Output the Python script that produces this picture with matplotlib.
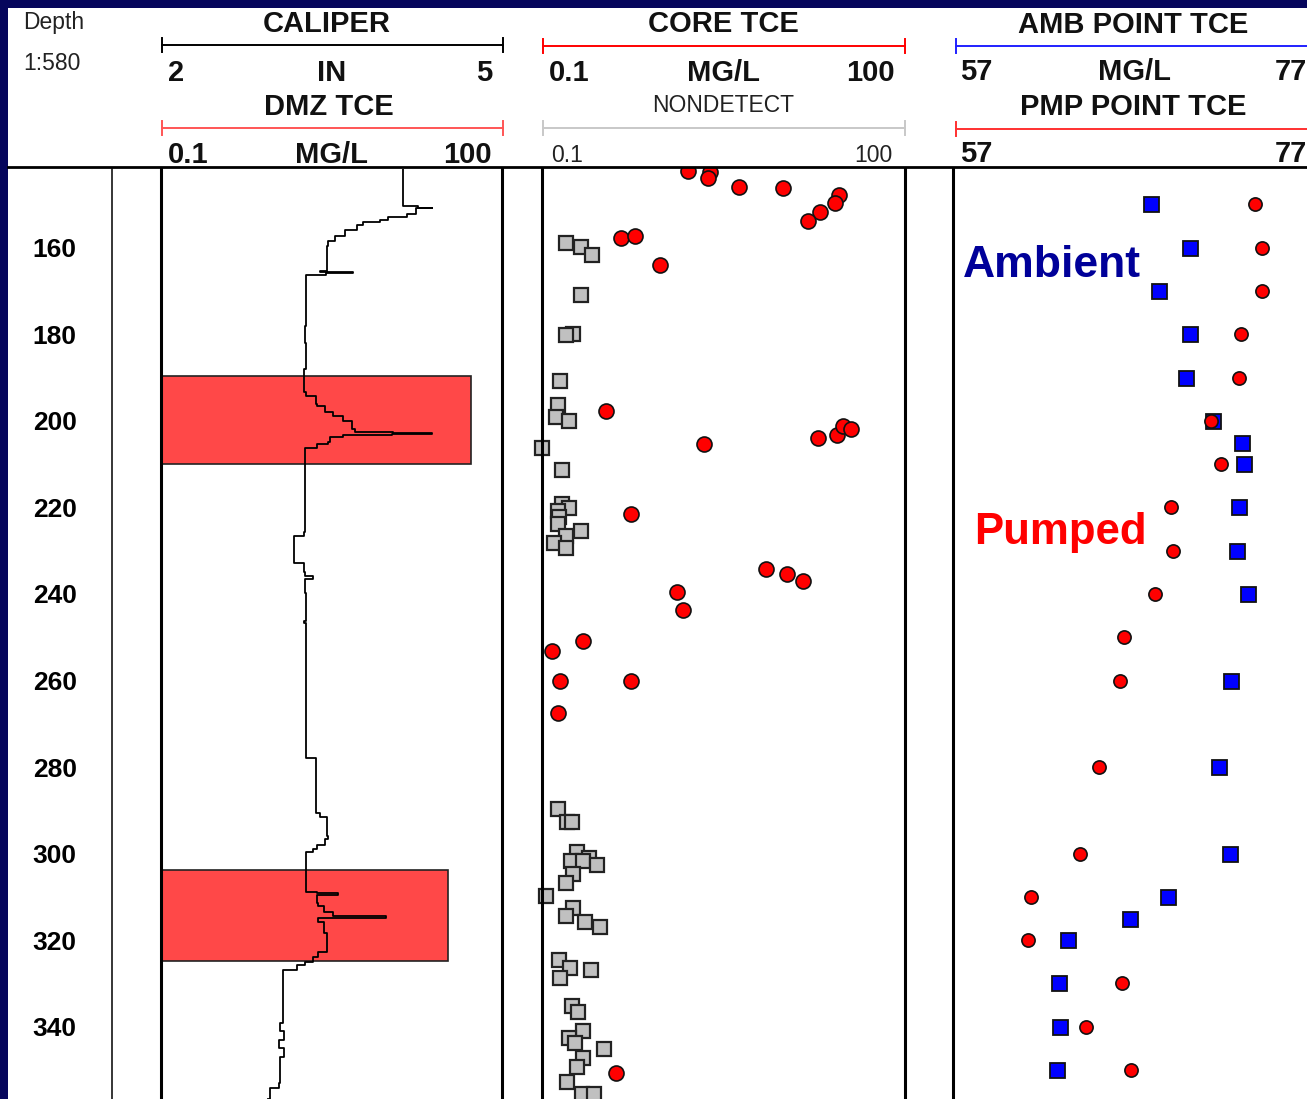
import matplotlib.pyplot as plt
from matplotlib.patches import Rectangle
from matplotlib.transforms import blended_transform_factory

plt.rcParams['font.family'] = ['Liberation Sans', 'DejaVu Sans']

depth_top, depth_bot = 141.8, 356.7
depth_ticks = [160, 180, 200, 220, 240, 260, 280, 300, 320, 340]

# caliper, inches
cal_depth = [141.8, 149.8, 150.3, 150.7, 150.9, 152.1, 152.8, 153.5, 154.0, 154.7,
             155.8, 157.2, 158.4, 159.5, 164.9, 165.4, 165.6, 165.9, 166.2, 178.0,
             182.0, 188.0, 193.3, 194.2, 196.1, 196.6, 197.9, 198.9, 200.0, 201.9,
             202.6, 202.8, 203.0, 203.3, 203.7, 204.9, 205.3, 206.3, 225.7, 226.6,
             232.4, 232.8, 235.0, 235.9, 236.6, 239.8, 246.3, 246.6, 272.9, 277.5,
             278.0, 289.8, 290.5, 291.6, 296.0, 296.7, 297.9, 299.0, 299.7, 308.3,
             308.8, 309.0, 309.5, 311.3, 312.2, 313.6, 314.3, 314.8, 315.9, 318.3,
             321.7, 322.7, 323.8, 325.0, 325.7, 326.8, 339.1, 341.0, 343.0, 345.0,
             347.0, 353.0, 354.1, 356.7]
cal_in = [4.13, 4.13, 4.26, 4.38, 4.24, 4.16, 4.00, 3.93, 3.78, 3.72,
          3.62, 3.53, 3.47, 3.46, 3.46, 3.40, 3.69, 3.45, 3.28, 3.27,
          3.28, 3.26, 3.28, 3.36, 3.37, 3.44, 3.51, 3.60, 3.68, 3.71,
          4.04, 4.38, 4.03, 3.60, 3.49, 3.47, 3.37, 3.27, 3.26, 3.17,
          3.17, 3.26, 3.27, 3.34, 3.27, 3.28, 3.26, 3.28, 3.28, 3.28,
          3.36, 3.36, 3.40, 3.46, 3.47, 3.44, 3.37, 3.34, 3.28, 3.28,
          3.37, 3.56, 3.37, 3.38, 3.43, 3.51, 3.98, 3.38, 3.43, 3.46,
          3.46, 3.38, 3.34, 3.27, 3.20, 3.07, 3.05, 3.08, 3.04, 3.08,
          3.05, 3.04, 2.96, 2.94]

# DMZ TCE intervals, mg/L
dmz_top = [189.6, 303.7]
dmz_bot = [210.0, 324.7]
dmz_tce = [53.4, 33.5]

# core TCE, detects (mg/L)
core_det_depth = [142.2, 142.4, 143.8, 145.9, 146.3, 147.7, 149.6, 151.7, 153.8, 157.7,
                  157.2, 163.9, 197.7, 205.3, 204.0, 203.3, 201.2, 201.9, 221.5, 234.3,
                  235.4, 237.0, 239.6, 243.8, 250.9, 253.2, 260.0, 260.0, 267.4, 350.7]
core_det_tce = [1.61, 2.44, 2.36, 4.25, 9.8, 28.5, 26.4, 19.8, 15.8, 0.45,
                0.59, 0.94, 0.34, 2.18, 19.1, 27.4, 30.7, 35.8, 0.54, 7.1,
                10.6, 14.4, 1.31, 1.46, 0.22, 0.12, 0.14, 0.54, 0.135, 0.41]

# core TCE, nondetects (mg/L)
core_nd_depth = [158.8, 159.8, 161.6, 170.9, 179.9, 180.1, 190.8, 196.3, 199.1, 200.0,
                 206.3, 211.4, 219.2, 220.2, 220.9, 222.2, 223.9, 225.5, 226.6, 228.3,
                 229.4, 289.8, 292.6, 292.6, 299.7, 300.9, 301.8, 301.6, 302.7, 304.8,
                 306.7, 309.9, 312.5, 314.3, 315.7, 316.9, 324.5, 326.4, 328.7, 326.8,
                 335.2, 336.5, 340.9, 342.6, 343.7, 345.1, 347.2, 349.3, 352.7, 355.5,
                 355.5]
core_nd_tce = [0.158, 0.21, 0.26, 0.21, 0.18, 0.158, 0.14, 0.135, 0.13, 0.167,
               0.10, 0.146, 0.146, 0.167, 0.135, 0.138, 0.135, 0.21, 0.158, 0.126,
               0.158, 0.135, 0.16, 0.177, 0.195, 0.244, 0.174, 0.22, 0.285, 0.18,
               0.158, 0.108, 0.18, 0.158, 0.226, 0.30, 0.138, 0.17, 0.14, 0.254,
               0.177, 0.20, 0.22, 0.167, 0.187, 0.325, 0.22, 0.195, 0.16, 0.215,
               0.27]

# point samples
amb_depth = [150, 160, 170, 180, 190, 200, 205, 210, 220, 230,
             240, 260, 280, 300, 310, 315, 320, 330, 340, 350]
amb_tce = [67.9, 70.0, 68.3, 70.0, 69.8, 71.3, 72.9, 73.0, 72.7, 72.6,
           73.2, 72.3, 71.6, 72.2, 68.8, 66.7, 63.3, 62.8, 62.9, 62.7]
pmp_depth = [150, 160, 170, 180, 190, 200, 210, 220, 230, 240,
             250, 260, 280, 300, 310, 320, 330, 340, 350]
pmp_tce = [73.6, 74.0, 74.0, 72.8, 72.7, 71.2, 71.7, 69.0, 69.1, 68.1,
           66.4, 66.2, 65.0, 64.0, 61.3, 61.1, 66.3, 64.3, 66.8]

# ---- layout (pixels) ----
W, H = 1307, 1099
BODY_TOP = 169
NAVY = '#06065c'
RED = '#ff0000'

fig = plt.figure(figsize=(W / 100, H / 100), dpi=100)
fig.patch.set_facecolor('white')


def box(x0, x1, y0, y1):
    return [x0 / W, 1 - y1 / H, (x1 - x0) / W, (y1 - y0) / H]


def track(x0, x1, scale, lim):
    ax = fig.add_axes(box(x0, x1, BODY_TOP, H))
    ax.set_xscale(scale)
    ax.set_xlim(lim)
    ax.set_ylim(depth_bot, depth_top)
    ax.tick_params(which='both', length=0, labelbottom=False, labelleft=False)
    ax.set_xticks([], minor=True)
    ax.set_xticks([])
    ax.set_yticks([])
    for s in ['top', 'bottom']:
        ax.spines[s].set_visible(False)
    for s in ['left', 'right']:
        ax.spines[s].set_linewidth(2.2)
    return ax


# depth column
ax_d = fig.add_axes(box(8, 112, BODY_TOP, H))
ax_d.set_xlim(0, 1)
ax_d.set_ylim(depth_bot, depth_top)
ax_d.set_xticks([])
ax_d.set_yticks([])
for s in ['top', 'bottom', 'left']:
    ax_d.spines[s].set_visible(False)
ax_d.spines['right'].set_linewidth(1.1)
for d in depth_ticks:
    ax_d.annotate(str(d), (0.45, d), xytext=(0, -6.8), textcoords='offset points',
                  ha='center', va='baseline', fontsize=19, fontweight='bold')

# caliper + DMZ TCE
ax_dmz = track(161, 502, 'log', (0.1, 100))
ax_dmz.barh([(t + b) / 2 for t, b in zip(dmz_top, dmz_bot)],
            [v - 0.1 for v in dmz_tce], left=0.1,
            height=[b - t for t, b in zip(dmz_top, dmz_bot)],
            color='#ff4848', edgecolor='#222222', linewidth=1.2)
ax_cal = ax_dmz.twiny()
ax_cal.set_xlim(2, 5)
ax_cal.set_xticks([])
for s in ax_cal.spines.values():
    s.set_visible(False)
ax_cal.plot(cal_in, cal_depth, color='black', lw=1.3, drawstyle='steps-pre')

# core TCE
ax_core = track(542, 905, 'log', (0.1, 100))
ax_core.plot(core_nd_tce, core_nd_depth, 's', ms=10.2, mfc='#c0c0c0', mec='#222222',
             mew=1.6, clip_on=False)
ax_core.plot(core_det_tce, core_det_depth, 'o', ms=10.8, mfc=RED, mec='#111111',
             mew=1.2, clip_on=False)

# ambient / pumped point samples
ax_amb = track(953, 1317, 'linear', (57, 77))
ax_amb.plot(amb_tce, amb_depth, 's', ms=10.8, mfc='#0000ff', mec='#111111', mew=1.3,
            clip_on=False)
ax_amb.plot(pmp_tce, pmp_depth, 'o', ms=9.5, mfc=RED, mec='#111111', mew=1.2,
            clip_on=False)
tr = blended_transform_factory(ax_amb.transAxes, ax_amb.transData)
ax_amb.text(0.027, 166.7, 'Ambient', transform=tr, ha='left', va='baseline',
            fontsize=32, fontweight='bold', color='#000099')
ax_amb.text(0.058, 228.5, 'Pumped', transform=tr, ha='left', va='baseline',
            fontsize=31.5, fontweight='bold', color=RED)

# ---- header ----
ax_h = fig.add_axes([0, 0, 1, 1], zorder=10)
ax_h.set_xlim(0, W)
ax_h.set_ylim(H, 0)
ax_h.axis('off')
ax_h.add_patch(Rectangle((0, 0), W, 167, facecolor='white', edgecolor='none'))
ax_h.add_patch(Rectangle((0, 0), 8, H, facecolor=NAVY, edgecolor='none'))
ax_h.add_patch(Rectangle((0, 0), W, 8, facecolor=NAVY, edgecolor='none'))
ax_h.plot([8, W], [167, 167], color='black', lw=2)

ax_h.text(23, 29, 'Depth', fontsize=16.5, va='baseline', ha='left', color='#222222')
ax_h.text(23, 70, '1:580', fontsize=16.5, va='baseline', ha='left', color='#222222')


def bar(x0, x1, y, color):
    ax_h.plot([x0, x1], [y, y], color=color, lw=1.4)
    ax_h.plot([x0, x0], [y - 7, y + 7], color=color, lw=1.4)
    ax_h.plot([x1, x1], [y - 7, y + 7], color=color, lw=1.4)


def row(x0, x1, y, left, mid, right, size=21, weight='bold'):
    kw = dict(fontsize=size, fontweight=weight, va='baseline', color='#111111')
    ax_h.text(x0 + 7, y, left, ha='left', **kw)
    ax_h.text((x0 + x1) / 2, y, mid, ha='center', **kw)
    ax_h.text(x1 - 10, y, right, ha='right', **kw)


big = dict(fontsize=21, fontweight='bold', va='baseline', ha='center', color='#111111')

# caliper / DMZ header
x0, x1 = 161, 502
ax_h.text((x0 + x1) / 2 - 5, 32, 'CALIPER', **big)
bar(x0 + 1, x1 + 1, 45, 'black')
row(x0, x1, 81, '2', 'IN', '5')
ax_h.text((x0 + x1) / 2 - 3, 115, 'DMZ TCE', **big)
bar(x0 + 1, x1 + 1, 128, '#ff5555')
row(x0, x1, 163, '0.1', 'MG/L', '100')

# core header
x0, x1 = 542, 905
ax_h.text((x0 + x1) / 2, 32, 'CORE TCE', **big)
bar(x0 + 1, x1, 46, RED)
row(x0, x1, 81, '0.1', 'MG/L', '100')
ax_h.text((x0 + x1) / 2, 112, 'NONDETECT', fontsize=16.5, va='baseline', ha='center',
          color='#222222')
bar(x0 + 1, x1, 128, '#c8c8c8')
ax_h.text(x0 + 9, 162, '0.1', fontsize=16.5, va='baseline', ha='left', color='#222222')
ax_h.text(x1 - 12, 162, '100', fontsize=16.5, va='baseline', ha='right', color='#222222')

# point sample header
x0, x1 = 953, 1317
ax_h.text((x0 + x1) / 2 - 2, 33, 'AMB POINT TCE', **big)
bar(x0 + 3, x1, 46, '#2020ff')
row(x0, x1, 80, '57', 'MG/L', '77')
ax_h.text((x0 + x1) / 2 - 2, 115, 'PMP POINT TCE', **big)
bar(x0 + 3, x1, 129, '#ff3030')
ax_h.text(x0 + 7, 162, '57', fontsize=21, fontweight='bold', va='baseline', ha='left',
          color='#111111')
ax_h.text(x1 - 10, 162, '77', fontsize=21, fontweight='bold', va='baseline', ha='right',
          color='#111111')

fig.savefig('out.png', dpi=100)
